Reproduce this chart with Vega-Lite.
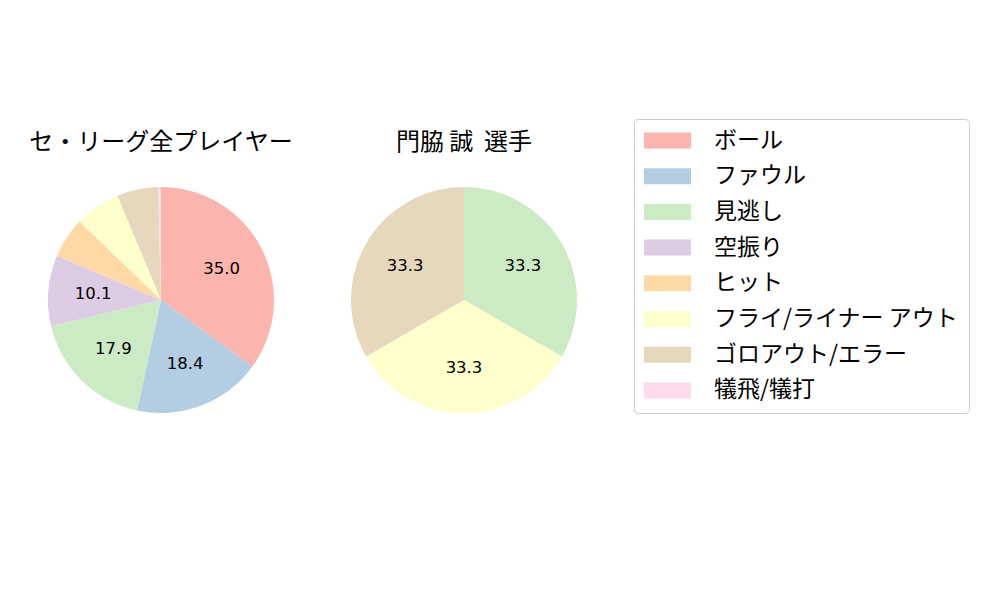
{
  "$schema": "https://vega.github.io/schema/vega-lite/v6.json",
  "padding": {"left": 29, "top": 118, "right": 10, "bottom": 10},
  "bounds": "flush",
  "spacing": 77,
  "datasets": {
    "league": [
      {"type": "ボール", "idx": 1, "value": 35.0},
      {"type": "ファウル", "idx": 2, "value": 18.4},
      {"type": "見逃し", "idx": 3, "value": 17.9},
      {"type": "空振り", "idx": 4, "value": 10.1},
      {"type": "ヒット", "idx": 5, "value": 5.8},
      {"type": "フライ/ライナー アウト", "idx": 6, "value": 6.5},
      {"type": "ゴロアウト/エラー", "idx": 7, "value": 5.9},
      {"type": "犠飛/犠打", "idx": 8, "value": 0.4}
    ],
    "player": [
      {"type": "見逃し", "idx": 3, "value": 33.3},
      {"type": "フライ/ライナー アウト", "idx": 6, "value": 33.3},
      {"type": "ゴロアウト/エラー", "idx": 7, "value": 33.3}
    ]
  },
  "hconcat": [
    {
      "width": 226,
      "height": 226,
      "title": {"text": "セ・リーグ全プレイヤー"},
      "data": {"name": "league"},
      "encoding": {
        "theta": {"field": "value", "type": "quantitative", "stack": true},
        "order": {"field": "idx", "type": "quantitative"}
      },
      "layer": [
        {
          "mark": {"type": "arc", "stroke": null},
          "encoding": {
            "color": {
              "field": "type",
              "type": "nominal",
              "scale": {
                "domain": ["ボール", "ファウル", "見逃し", "空振り", "ヒット", "フライ/ライナー アウト", "ゴロアウト/エラー", "犠飛/犠打"],
                "range": ["#fbb4ae", "#b3cde3", "#ccebc5", "#decbe4", "#fed9a6", "#ffffcc", "#e5d8bd", "#fddaec"]
              },
              "legend": {"title": null}
            }
          }
        },
        {
          "transform": [{"filter": "datum.value >= 10"}],
          "mark": {"type": "text", "radius": 68, "fontSize": 16.5, "font": "DejaVu Sans", "color": "#000000"},
          "encoding": {"text": {"field": "value", "type": "quantitative", "format": ".1f"}}
        }
      ]
    },
    {
      "width": 226,
      "height": 226,
      "title": {"text": "門脇 誠 \u00a0選手"},
      "data": {"name": "player"},
      "encoding": {
        "theta": {"field": "value", "type": "quantitative", "stack": true},
        "order": {"field": "idx", "type": "quantitative"}
      },
      "layer": [
        {
          "mark": {"type": "arc", "stroke": null},
          "encoding": {
            "color": {"field": "type", "type": "nominal", "legend": {"title": null}}
          }
        },
        {
          "transform": [{"filter": "datum.value >= 10"}],
          "mark": {"type": "text", "radius": 68, "fontSize": 16.5, "font": "DejaVu Sans", "color": "#000000"},
          "encoding": {"text": {"field": "value", "type": "quantitative", "format": ".1f"}}
        }
      ]
    }
  ],
  "resolve": {"scale": {"color": "shared"}},
  "config": {
    "view": {"stroke": null},
    "font": "Noto Sans CJK JP",
    "title": {"fontSize": 24, "fontWeight": "normal", "font": "Noto Sans CJK JP", "color": "#000000", "offset": 32},
    "legend": {
      "orient": "none",
      "legendX": 586,
      "legendY": -68,
      "strokeColor": "#cccccc",
      "fillColor": "#ffffff",
      "cornerRadius": 4,
      "padding": 10,
      "labelFont": "Noto Sans CJK JP",
      "labelFontSize": 23,
      "labelColor": "#000000",
      "labelLimit": 400,
      "symbolType": "M-2.136,-0.727L2.136,-0.727L2.136,0.727L-2.136,0.727Z",
      "symbolSize": 484,
      "symbolStrokeWidth": 0,
      "symbolOpacity": 1,
      "symbolOffset": 12,
      "labelOffset": 35,
      "rowPadding": 11.7
    }
  }
}
